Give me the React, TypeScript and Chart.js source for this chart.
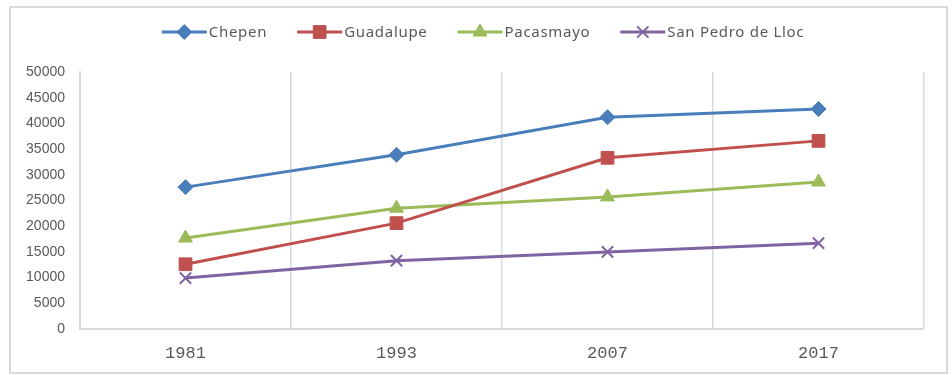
import React, { useEffect, useRef } from "react";
import { Chart, registerables } from "chart.js";
import { drawPoint } from "chart.js/helpers";

Chart.register(...registerables);

// Census years and population per district
const years = ["1981", "1993", "2007", "2017"];
const chepen = [27600, 33900, 41200, 42800];
const guadalupe = [12600, 20600, 33300, 36600];
const pacasmayo = [17700, 23500, 25700, 28600];
const sanPedroDeLloc = [9900, 13300, 15000, 16700];

const seriesNames = ["Chepen", "Guadalupe", "Pacasmayo", "San Pedro de Lloc"];
const yMin = 0;
const yMax = 50000;
const yStep = 5000;

const W = 952;
const H = 375;
const GRAY = "#d9d9d9";
const TEXT = "#595959";

// Outer frame around the whole chart
const framePlugin = {
  id: "frame",
  beforeDraw(chart: any) {
    const ctx = chart.ctx;
    ctx.save();
    ctx.fillStyle = "#ffffff";
    ctx.fillRect(0, 0, chart.width, chart.height);
    ctx.strokeStyle = GRAY;
    ctx.lineWidth = 2;
    ctx.strokeRect(10, 7, 937, 366);
    ctx.restore();
  },
};

// Legend: line segment with the series marker, followed by the label
const lineLegendPlugin = {
  id: "lineLegend",
  afterDraw(chart: any) {
    const ctx = chart.ctx;
    const datasets = chart.data.datasets;
    const lineLen = 45;
    const textGap = 2;
    const itemGap = 30;
    const y = 32;
    ctx.save();
    ctx.font = "15px 'Noto Sans', sans-serif";
    (ctx as any).letterSpacing = "0.7px";
    ctx.textBaseline = "middle";
    ctx.textAlign = "left";
    const widths = datasets.map((d: any) => ctx.measureText(d.label).width);
    const total =
      widths.reduce((a: number, b: number) => a + b, 0) +
      datasets.length * (lineLen + textGap) +
      (datasets.length - 1) * itemGap;
    let x = 483 - total / 2;
    datasets.forEach((d: any, i: number) => {
      ctx.strokeStyle = d.borderColor;
      ctx.lineWidth = 3;
      ctx.beginPath();
      ctx.moveTo(x, y);
      ctx.lineTo(x + lineLen, y);
      ctx.stroke();
      ctx.fillStyle = d.pointBackgroundColor;
      ctx.strokeStyle = d.pointBorderColor;
      ctx.lineWidth = d.pointBorderWidth;
      drawPoint(ctx, {
        pointStyle: d.pointStyle,
        radius: d.pointRadius,
        rotation: 0,
        borderWidth: d.pointBorderWidth,
      } as any, x + lineLen / 2, y);
      ctx.fillStyle = TEXT;
      ctx.fillText(d.label, x + lineLen + textGap, y + 1);
      x += lineLen + textGap + widths[i] + itemGap;
    });
    ctx.restore();
  },
};

function series(label: string, data: number[], color: string, style: string, radius: number, bw: number) {
  return {
    label,
    data,
    borderColor: color,
    backgroundColor: color,
    borderWidth: 3,
    pointStyle: style,
    pointRadius: radius,
    pointHoverRadius: radius,
    pointBackgroundColor: color,
    pointBorderColor: color,
    pointBorderWidth: bw,
    tension: 0,
  };
}

export default function App() {
  const ref = useRef<HTMLCanvasElement | null>(null);

  useEffect(() => {
    if (!ref.current) return;
    const chart = new Chart(ref.current, {
      type: "line",
      data: {
        labels: years,
        datasets: [
          series(seriesNames[0], chepen, "#4a7ebb", "rectRot", 7.5, 1),
          series(seriesNames[1], guadalupe, "#c0504d", "rect", 9, 1),
          series(seriesNames[2], pacasmayo, "#9bbb59", "triangle", 8, 1),
          series(seriesNames[3], sanPedroDeLloc, "#8064a2", "crossRot", 8, 2),
        ] as any,
      },
      options: {
        responsive: false,
        animation: false,
        layout: { padding: { top: 72, right: 28, bottom: 0, left: 0 } },
        plugins: {
          legend: { display: false },
          tooltip: { enabled: false },
        },
        scales: {
          x: {
            offset: true,
            grid: { display: true, offset: true, color: GRAY, lineWidth: 1.5, drawTicks: false },
            border: { display: true, color: GRAY, width: 2 },
            ticks: {
              color: TEXT,
              font: { family: "'Liberation Mono', monospace", size: 17 },
              padding: 14,
            },
            afterFit(scale: any) {
              scale.height = 46;
            },
          },
          y: {
            min: yMin,
            max: yMax,
            grid: { display: false, drawTicks: false },
            border: { display: true, color: GRAY, width: 2 },
            ticks: {
              stepSize: yStep,
              color: TEXT,
              font: { family: "'Liberation Sans', Arial, sans-serif", size: 14 },
              padding: 15,
              callback: (v: any) => String(v),
            },
            afterFit(scale: any) {
              scale.width = 80;
            },
          },
        },
      },
      plugins: [framePlugin, lineLegendPlugin],
    });
    return () => chart.destroy();
  }, []);

  return (
    <div style={{ position: "absolute", left: 0, top: 0, width: W, height: H }}>
      <canvas ref={ref} width={W} height={H} style={{ display: "block" }} />
    </div>
  );
}
